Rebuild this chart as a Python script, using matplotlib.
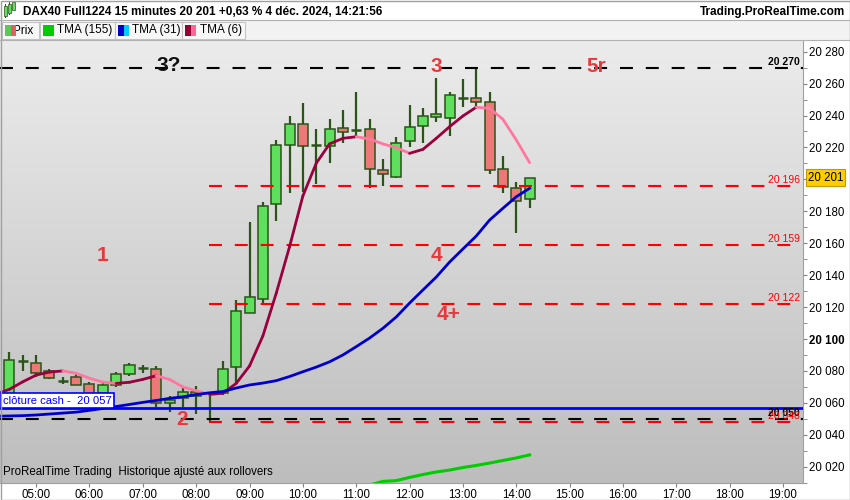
import numpy as np
import matplotlib.pyplot as plt
import matplotlib.transforms as mtransforms
from matplotlib.patches import Rectangle
from matplotlib.colors import LinearSegmentedColormap

plt.rcParams['font.family'] = ['Liberation Sans', 'DejaVu Sans']

# 15 minute candles, 04:30 -> 14:15
opens = [20065, 20086, 20085, 20080, 20074, 20076, 20072, 20066, 20071, 20078,
         20082, 20081, 20060, 20063, 20067, 20066, 20066, 20082.3, 20116, 20125.2,
         20184.4, 20221.4, 20234.5, 20221.5, 20221, 20232.4, 20231, 20231.4, 20205.7, 20201.3,
         20224.2, 20233.3, 20239.3, 20238.3, 20251.2, 20250.8, 20248.3, 20206.3, 20194.4, 20188]
highs = [20092, 20090, 20090, 20081, 20076.5, 20078.5, 20073, 20073, 20079.5, 20085,
         20084, 20083, 20064, 20069.5, 20070.5, 20067, 20086, 20124.4, 20173, 20185.8,
         20224.7, 20239.7, 20248, 20231.6, 20237.6, 20243.5, 20254.7, 20237.6, 20212.6, 20226.7,
         20246.6, 20244.5, 20263.3, 20254.6, 20262.9, 20270, 20254.6, 20214.7, 20198.5, 20201]
lows = [20062, 20080, 20076, 20075, 20072, 20071, 20063, 20064, 20070, 20077,
        20079, 20057.5, 20054, 20057.5, 20053, 20048, 20065, 20072.2, 20116, 20121.3,
        20174.1, 20191.3, 20192.3, 20197.1, 20210.5, 20223, 20227.2, 20194.4, 20195.9, 20201,
        20220.5, 20222.6, 20236.1, 20227.4, 20245.5, 20245.2, 20203.2, 20191.3, 20166.2, 20182.3]
closes = [20087, 20086, 20079, 20075.5, 20074, 20071, 20065, 20071, 20078, 20084,
          20082, 20060, 20062, 20067, 20064.5, 20066, 20081, 20117.5, 20126, 20183.3,
          20221.4, 20234.5, 20220.7, 20221.5, 20231.4, 20229.5, 20231, 20206.3, 20203.2, 20222.6,
          20232.6, 20239.5, 20240.8, 20252.7, 20251.2, 20248.3, 20205.7, 20195.4, 20186.5, 20201]

# moving averages, first value belongs to the candle before 04:30
tma6 = [20065.5, 20068.5, 20073.2, 20077.4, 20079.3, 20080.0, 20078.5, 20075.4, 20073.0, 20072.2,
        20072.9, 20074.7, 20077.0, 20074.7, 20070.0, 20067.6, 20065.3, 20066.0, 20072.2, 20083.1,
        20101.9, 20128.6, 20157.8, 20189.6, 20210.1, 20222.2, 20225.7, 20226.7, 20225.3, 20222.2,
        20219.9, 20216.3, 20218.8, 20225.7, 20233.0, 20239.7, 20245.2, 20244.5, 20237.6, 20224.7,
        20210.5]
tma31 = [20051.6, 20051.8, 20052.0, 20052.4, 20053.0, 20053.6, 20054.2, 20055.3, 20056.5, 20057.7,
         20059.0, 20060.3, 20061.5, 20062.8, 20063.8, 20065.2, 20066.3, 20067.1, 20069.3, 20071.2,
         20072.4, 20073.9, 20076.5, 20079.5, 20082.4, 20085.7, 20090.0, 20095.2, 20100.6, 20106.7,
         20113.8, 20122.5, 20130.7, 20138.8, 20148.2, 20156.4, 20164.5, 20174.5, 20181.9, 20189.1,
         20194.4]
tma155 = [np.nan] * 28 + [20008.5, 20010.8, 20011.3, 20013.3, 20015.1, 20016.7, 20017.9, 20019.5,
                          20020.8, 20022.3, 20023.9, 20025.5, 20027.4]

hours = ["05:00", "06:00", "07:00", "08:00", "09:00", "10:00", "11:00", "12:00",
         "13:00", "14:00", "15:00", "16:00", "17:00", "18:00", "19:00"]
hour_idx = [2 + 4 * k for k in range(len(hours))]

black_levels = [20270, 20050]
red_levels = [20196, 20159, 20122, 20048]
red_start = 15          # candle the red levels start from
cash_close = 20057
last_price = 20201


def fmt(v):
    v = int(round(v))
    return f"{v // 1000} {v % 1000:03d}"


W, H = 850, 500
fig = plt.figure(figsize=(W / 100, H / 100), dpi=100)
fig.patch.set_facecolor('white')
ax = fig.add_axes([0, 17 / H, 803 / W, 443 / H])

x0, x1 = -0.71, 59.5
y0, y1 = 20009.8, 20287.3

# background gradient
cmap = LinearSegmentedColormap.from_list('bg', ['#ececec', '#bdbdbd'])
ax.imshow(np.linspace(0, 1, 256).reshape(-1, 1), cmap=cmap, extent=[0, 1, 0, 1],
          transform=ax.transAxes, aspect='auto', zorder=0)

# candles
wick = '#2a5418'
for i in range(len(opens)):
    o, h, l, c = opens[i], highs[i], lows[i], closes[i]
    ax.vlines(i, l, h, color=wick, lw=1.6, zorder=2)
    if c == o:
        ax.hlines(o, i - 0.375, i + 0.375, color=wick, lw=1.8, zorder=3)
    else:
        col = '#5ee05e' if c > o else '#ec7878'
        ax.bar(i, c - o, bottom=o, width=0.75, color=col, edgecolor=wick, lw=1.1, zorder=3)

# levels
dash = (0, (6.2, 6.2))
ax.hlines(black_levels, x0, x1, colors='black', lw=1.5, linestyles=dash, zorder=4)
ax.hlines(red_levels, red_start - 0.05, x1, colors='#ff0000', lw=1.5, linestyles=dash, zorder=4)
ax.axhline(cash_close, color='#0000ff', lw=2, zorder=4)

blend = mtransforms.blended_transform_factory(ax.transAxes, ax.transData)
for lv in black_levels:
    ax.text(0.996, lv + 0.6, fmt(lv), transform=blend, ha='right', va='bottom',
            fontsize=7.5, fontweight='bold', color='black', zorder=6)
for lv in red_levels:
    ax.text(0.996, lv + 0.6, fmt(lv), transform=blend, ha='right', va='bottom',
            fontsize=7.5, color='#ff0000', zorder=6)

# moving averages
xm = np.arange(-1, len(opens))
for i in range(len(xm) - 1):
    col = '#99003d' if tma6[i + 1] >= tma6[i] else '#ff77a0'
    ax.plot(xm[i:i + 2], tma6[i:i + 2], color=col, lw=2, zorder=5, solid_capstyle='round')
ax.plot(xm, tma31, color='#0000cc', lw=2, zorder=5)
ax.plot(xm, tma155, color='#00cc00', lw=2.2, zorder=5)

# wave labels
marks = [("1", 6.94, 20152), ("2", 12.94, 20049.3), ("3", 32.0, 20271), ("3?", 11.97, 20271.6),
         ("4", 32.0, 20152), ("4+", 32.9, 20115.6), ("5r", 44.0, 20271)]
for txt, mx, my in marks:
    ax.text(mx, my, txt, ha='center', va='center', fontsize=15, fontweight='bold',
            color='#111111' if txt == "3?" else '#e8383d', zorder=7)

# cash close tag
ax.text(0.004, cash_close + 1.2, f"clôture cash -  {fmt(cash_close)}", transform=blend,
        ha='left', va='bottom', fontsize=8.1, color='#0000ff', zorder=8,
        bbox=dict(boxstyle='square,pad=0.2', fc='white', ec='#0000ff', lw=1.2))

# last price tag (covers the 20 200 tick label, as in the original)
ax.text(1.006, last_price, fmt(last_price), transform=blend, ha='left', va='center',
        fontsize=8.3, color='black', clip_on=False, zorder=8,
        bbox=dict(boxstyle='square,pad=0.2', fc='#ffcc00', ec='#c09a00', lw=0.8))

ax.text(0.004, 0.012, "ProRealTime Trading  Historique ajusté aux rollovers",
        transform=ax.transAxes, fontsize=8.3, va='bottom', ha='left', zorder=8)

ax.set_xlim(x0, x1)
ax.set_ylim(y0, y1)

ax.yaxis.tick_right()
yt = list(range(20020, 20281, 20))
ax.set_yticks(yt)
ax.set_yticklabels(["" if v == 20200 else fmt(v) for v in yt])
ax.set_yticks(list(range(20010, 20290, 10)), minor=True)
for lab, v in zip(ax.get_yticklabels(), yt):
    if v == 20100:
        lab.set_fontweight('bold')
ax.set_xticks(hour_idx)
ax.set_xticklabels(hours)
ax.tick_params(axis='both', which='both', direction='out', length=3, color='#808080',
               labelsize=8.3, pad=1.5)
for s in ['top', 'left']:
    ax.spines[s].set_visible(False)
for s in ['right', 'bottom']:
    ax.spines[s].set_color('#a0a0a0')


# header and legend row
def px_rect(xa, ya, xb, yb, **kw):
    fig.add_artist(Rectangle((xa / W, 1 - yb / H), (xb - xa) / W, (yb - ya) / H,
                             transform=fig.transFigure, **kw))


px_rect(0, 20, W, 40, fc='#f2f2f2', ec='none')
fig.add_artist(plt.Line2D([0, 1], [1 - 20 / H, 1 - 20 / H], color='#b0b0b0', lw=0.8))
fig.add_artist(plt.Line2D([0, 1], [1 - 40 / H, 1 - 40 / H], color='#b0b0b0', lw=0.8))

for xx, ya, yb in [(5, 6, 16), (9, 4, 13), (13, 2, 10)]:
    px_rect(xx - 0.5, ya - 2, xx + 0.5, yb + 2, fc='#2a5418', ec='none')
    px_rect(xx - 1.5, ya, xx + 1.5, yb, fc='#5ee05e', ec='#2a5418', lw=0.5)

fig.text(23 / W, 1 - 12 / H, "DAX40 Full1224 15 minutes 20 201 +0,63 % 4 déc. 2024, 14:21:56",
         fontsize=8.5, fontweight='bold', va='center', ha='left')
fig.text(845 / W, 1 - 12 / H, "Trading.ProRealTime.com", fontsize=8.5, fontweight='bold',
         va='center', ha='right')

legend_items = [
    (2, 39, "Prix", 13, ['#55cc55', '#e06060']),
    (40, 115, "TMA (155)", 57, ['#00cc00', '#00cc00']),
    (115, 182, "TMA (31)", 132, ['#0000cc', '#00ccff']),
    (182, 245, "TMA (6)", 200, ['#990033', '#ff6699']),
]
for bx0, bx1, name, tx, cols in legend_items:
    px_rect(bx0, 22, bx1, 39, fc='#f7f7f7', ec='#c4c4c4', lw=0.8)
    fig.text(tx / W, 1 - 30.5 / H, name, fontsize=8.5, va='center', ha='left')
    px_rect(bx0 + 3, 25, bx0 + 9, 36, fc=cols[0], ec='none', zorder=5)
    px_rect(bx0 + 9, 25, bx0 + 14, 36, fc=cols[1], ec='none', zorder=5)

px_rect(0.5, 0.5, W - 0.5, H - 0.5, fc='none', ec='#a0a0a0', lw=1)

fig.savefig('out.png', dpi=100)
